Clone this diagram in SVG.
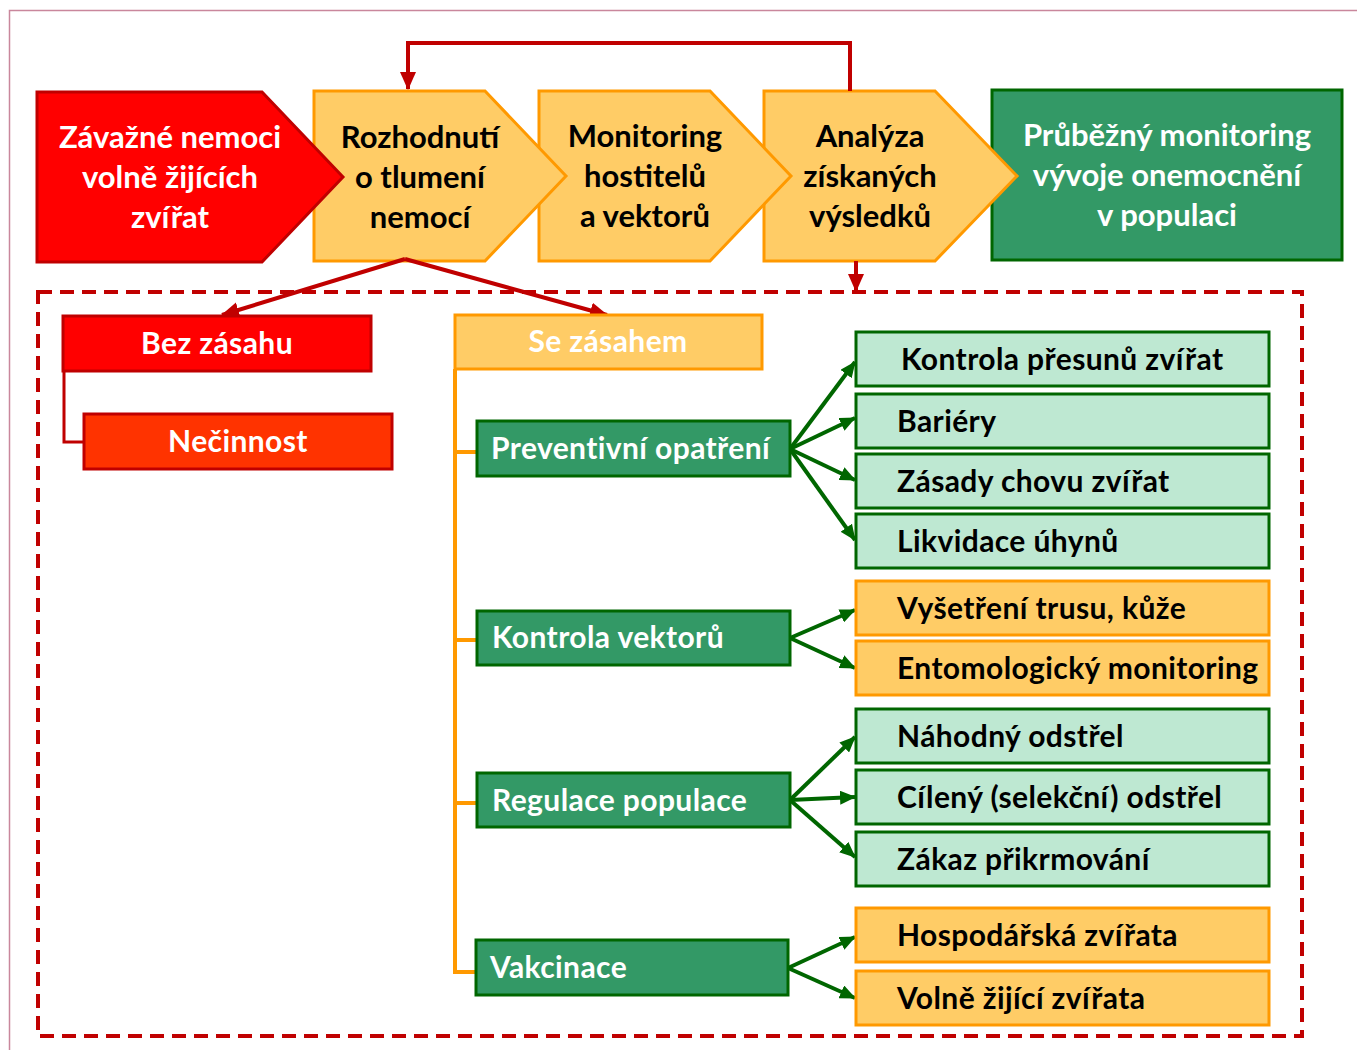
<svg xmlns="http://www.w3.org/2000/svg" width="1357" height="1050" viewBox="0 0 1357 1050">
<defs>
<style>
text{font-family:Lato,"Liberation Sans",sans-serif;font-weight:bold;}
.w{fill:#fff}
.k{fill:#000}
.c{text-anchor:middle}
.t29{font-size:31px}
.t28{font-size:30px;letter-spacing:0.4px}
.red{fill:#FF0000;stroke:#C00000;stroke-width:3}
.yel{fill:#FFCC66;stroke:#FF9900;stroke-width:3}
.grn{fill:#339966;stroke:#006600;stroke-width:3}
.lg{fill:#BEE8D2;stroke:#006600;stroke-width:3}
.rc{fill:none;stroke:#C00000;stroke-width:4}
.gc{fill:none;stroke:#006600;stroke-width:4}
.oc{fill:none;stroke:#FF9900;stroke-width:4}
</style>
<marker id="ar" markerUnits="userSpaceOnUse" markerWidth="18" markerHeight="16" refX="17" refY="8" orient="auto">
<path d="M0,0 L18,8 L0,16 Z" fill="#C00000"/>
</marker>
<marker id="ag" markerUnits="userSpaceOnUse" markerWidth="16" markerHeight="14" refX="15" refY="7" orient="auto">
<path d="M0,0 L16,7 L0,14 Z" fill="#006600"/>
</marker>
</defs>
<rect width="1357" height="1050" fill="#fff"/>
<path d="M9.5,1050 L9.5,10.5 L1357,10.5" fill="none" stroke="#C9879C" stroke-width="1.5"/>

<g id="node-prubezny">
<rect x="992" y="90" width="350" height="170" class="grn"/>
<text class="w c t29" x="1167" y="146">Průběžný monitoring</text>
<text class="w c t29" x="1167" y="186">vývoje onemocnění</text>
<text class="w c t29" x="1167" y="226">v populaci</text>
</g>
<g id="node-analyza">
<path d="M764,91 L935,91 L1017,176 L935,261 L764,261 Z" class="yel"/>
<text class="k c t29" x="870" y="147">Analýza</text>
<text class="k c t29" x="870" y="187">získaných</text>
<text class="k c t29" x="870" y="227">výsledků</text>
</g>
<g id="node-monitoring">
<path d="M539,91 L710,91 L791,176 L710,261 L539,261 Z" class="yel"/>
<text class="k c t29" x="645" y="147">Monitoring</text>
<text class="k c t29" x="645" y="187">hostitelů</text>
<text class="k c t29" x="645" y="227">a vektorů</text>
</g>
<g id="node-rozhodnuti">
<path d="M314,91 L485,91 L566,176 L485,261 L314,261 Z" class="yel"/>
<text class="k c t29" x="420" y="148">Rozhodnutí</text>
<text class="k c t29" x="420" y="188">o tlumení</text>
<text class="k c t29" x="420" y="228">nemocí</text>
</g>
<g id="node-zavazne">
<path d="M37,92 L262,92 L343,177 L262,262 L37,262 Z" class="red"/>
<text class="w c t29" x="170" y="148">Závažné nemoci</text>
<text class="w c t29" x="170" y="188">volně žijících</text>
<text class="w c t29" x="170" y="228">zvířat</text>
</g>

<g id="frame-zasah">
<rect x="38" y="292" width="1264" height="744" fill="none" stroke="#C00000" stroke-width="4" stroke-dasharray="14,8"/>
</g>

<g id="connectors">
<path d="M850,91 L850,43 L408,43 L408,89" class="rc" marker-end="url(#ar)"/>
<path d="M856,261 L856,291" class="rc" marker-end="url(#ar)"/>
<path d="M405,259 L222,315" class="rc" marker-end="url(#ar)"/>
<path d="M405,259 L607,315" class="rc" marker-end="url(#ar)"/>
<path d="M64,371 L64,442 L84,442" fill="none" stroke="#C00000" stroke-width="3"/>
<path d="M455,369 L455,972 L477,972 M455,452 L477,452 M455,640 L477,640 M455,803 L477,803" class="oc"/>
<path d="M790,449 L855,362" class="gc" marker-end="url(#ag)"/>
<path d="M790,449 L855,418" class="gc" marker-end="url(#ag)"/>
<path d="M790,449 L855,480" class="gc" marker-end="url(#ag)"/>
<path d="M790,449 L855,540" class="gc" marker-end="url(#ag)"/>
<path d="M790,638 L855,610" class="gc" marker-end="url(#ag)"/>
<path d="M790,638 L855,668" class="gc" marker-end="url(#ag)"/>
<path d="M790,800 L855,737" class="gc" marker-end="url(#ag)"/>
<path d="M790,800 L855,797" class="gc" marker-end="url(#ag)"/>
<path d="M790,800 L855,857" class="gc" marker-end="url(#ag)"/>
<path d="M788,968 L855,937" class="gc" marker-end="url(#ag)"/>
<path d="M788,968 L855,998" class="gc" marker-end="url(#ag)"/>
</g>

<g id="node-bez">
<rect x="63" y="316" width="308" height="55" class="red"/>
<text class="w c t28" x="217" y="354">Bez zásahu</text>
</g>
<g id="node-necinnost">
<rect x="84" y="414" width="308" height="55" fill="#FF3300" stroke="#C00000" stroke-width="3"/>
<text class="w c t28" x="238" y="452">Nečinnost</text>
</g>
<g id="node-se">
<rect x="455" y="315" width="307" height="54" class="yel"/>
<text class="w c t28" x="608" y="352">Se zásahem</text>
</g>

<g id="node-preventivni">
<rect x="477" y="421" width="313" height="55" class="grn"/>
<text class="w t28" x="491" y="459">Preventivní opatření</text>
</g>
<g id="node-kontrola-vektoru">
<rect x="477" y="611" width="313" height="54" class="grn"/>
<text class="w t28" x="492" y="648">Kontrola vektorů</text>
</g>
<g id="node-regulace">
<rect x="477" y="773" width="313" height="54" class="grn"/>
<text class="w t28" x="492" y="811">Regulace populace</text>
</g>
<g id="node-vakcinace">
<rect x="476" y="940" width="312" height="55" class="grn"/>
<text class="w t28" x="490" y="978">Vakcinace</text>
</g>

<g id="node-kontrola-presunu">
<rect x="856" y="332" width="413" height="54" class="lg"/>
<text class="k t28" x="901" y="370">Kontrola přesunů zvířat</text>
</g>
<g id="node-bariery">
<rect x="856" y="394" width="413" height="54" class="lg"/>
<text class="k t28" x="897" y="432">Bariéry</text>
</g>
<g id="node-zasady">
<rect x="856" y="454" width="413" height="54" class="lg"/>
<text class="k t28" x="897" y="492">Zásady chovu zvířat</text>
</g>
<g id="node-likvidace">
<rect x="856" y="514" width="413" height="54" class="lg"/>
<text class="k t28" x="897" y="552">Likvidace úhynů</text>
</g>
<g id="node-vysetreni">
<rect x="856" y="581" width="413" height="54" class="yel"/>
<text class="k t28" x="897" y="619">Vyšetření trusu, kůže</text>
</g>
<g id="node-entomologicky">
<rect x="856" y="641" width="413" height="54" class="yel"/>
<text class="k t28" x="897" y="679">Entomologický monitoring</text>
</g>
<g id="node-nahodny">
<rect x="856" y="709" width="413" height="54" class="lg"/>
<text class="k t28" x="897" y="747">Náhodný odstřel</text>
</g>
<g id="node-cileny">
<rect x="856" y="770" width="413" height="54" class="lg"/>
<text class="k t28" x="897" y="808">Cílený (selekční) odstřel</text>
</g>
<g id="node-zakaz">
<rect x="856" y="832" width="413" height="54" class="lg"/>
<text class="k t28" x="897" y="870">Zákaz přikrmování</text>
</g>
<g id="node-hospodarska">
<rect x="856" y="908" width="413" height="54" class="yel"/>
<text class="k t28" x="897" y="946">Hospodářská zvířata</text>
</g>
<g id="node-volne">
<rect x="856" y="971" width="413" height="54" class="yel"/>
<text class="k t28" x="897" y="1009">Volně žijící zvířata</text>
</g>
</svg>
